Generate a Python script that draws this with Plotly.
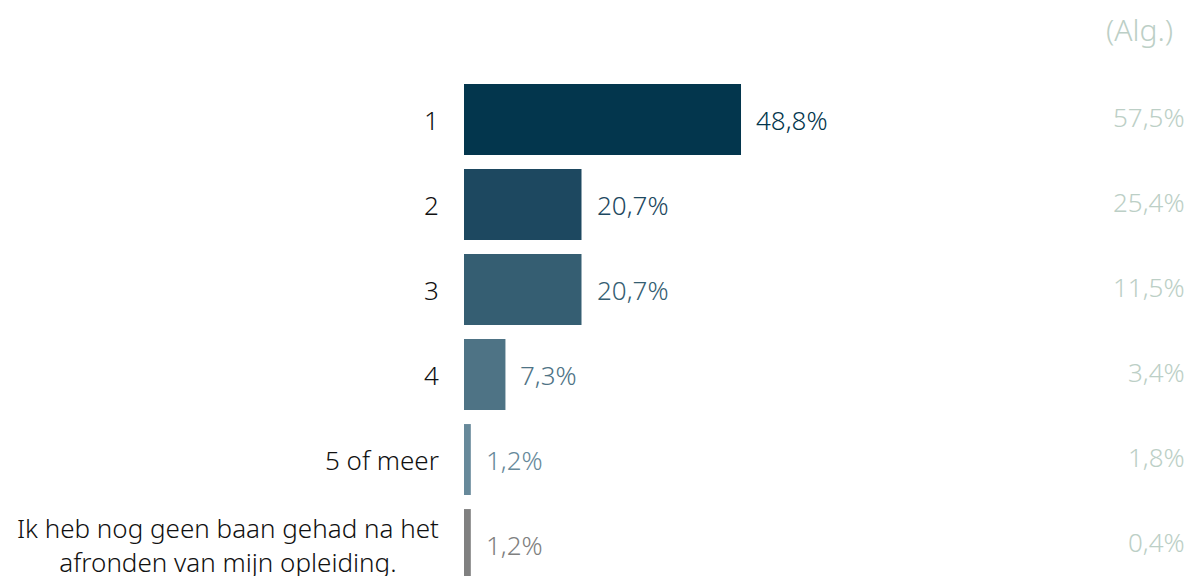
import plotly.graph_objects as go

categories = ["1", "2", "3", "4", "5 of meer",
              "Ik heb nog geen baan gehad na het<br>afronden van mijn opleiding."]
values = [48.8, 20.7, 20.7, 7.3, 1.2, 1.2]
value_labels = ["48,8%", "20,7%", "20,7%", "7,3%", "1,2%", "1,2%"]
alg_labels = ["57,5%", "25,4%", "11,5%", "3,4%", "1,8%", "0,4%"]
colors = ["#03364d", "#1d4860", "#355e72", "#4e7385", "#67899a", "#808080"]

FONT = "'Noto Sans', Lato, sans-serif"
ALG_COLOR = "#bccfc6"
idx = list(range(len(categories)))

fig = go.Figure()
fig.add_trace(go.Bar(
    x=values, y=idx, orientation="h",
    marker=dict(color=colors, line=dict(width=0)),
    hoverinfo="skip",
))

ann = []
for i in idx:
    ann.append(dict(x=values[i], y=i, xref="x", yref="y", text=value_labels[i],
                    showarrow=False, xanchor="left", xshift=13,
                    font=dict(family=FONT, size=26, color=colors[i], weight=300)))
    ann.append(dict(x=0, y=i, xref="paper", yref="y", text=categories[i],
                    showarrow=False, xanchor="right", xshift=-23, align="center",
                    font=dict(family=FONT, size=26, color="#111111", weight=300)))
    ann.append(dict(x=1, y=i, xref="paper", yref="y", text=alg_labels[i],
                    showarrow=False, xanchor="right", xshift=-7, yshift=3,
                    font=dict(family=FONT, size=26, color=ALG_COLOR, weight=300)))
ann.append(dict(x=1, y=1, xref="paper", yref="paper", text="(Alg.)",
                showarrow=False, xanchor="right", yanchor="middle", xshift=-19, yshift=48,
                font=dict(family=FONT, size=30, color=ALG_COLOR, weight=300)))

fig.update_layout(
    width=1194, height=576,
    margin=dict(l=464, r=0, t=77, b=0),
    paper_bgcolor="white", plot_bgcolor="white",
    bargap=0.165,
    showlegend=False,
    annotations=ann,
    xaxis=dict(range=[0, 128.6], visible=False, fixedrange=True),
    yaxis=dict(range=[5.37, -0.5], visible=False, fixedrange=True),
)

fig.write_html("out.html", config={"displayModeBar": False},
               post_script="document.body.style.margin='0';document.body.style.overflow='hidden';")
